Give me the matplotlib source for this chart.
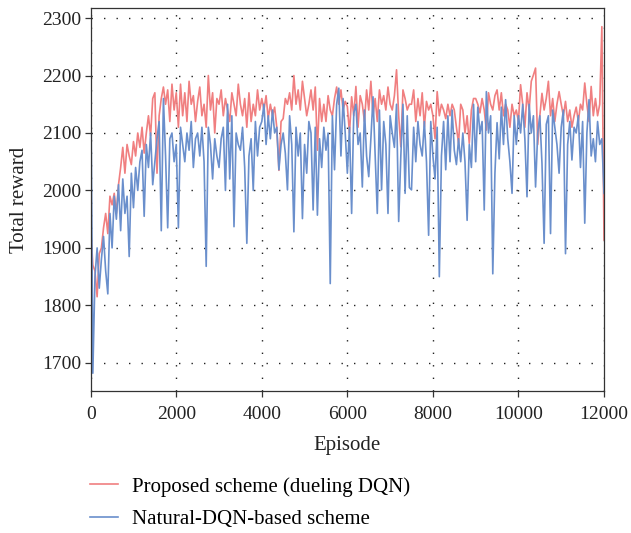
import numpy as np
import matplotlib
matplotlib.use("Agg")
import matplotlib.pyplot as plt

episodes = np.arange(0, 12001, 50)

proposed_dueling = [
    1935, 1870, 1860, 1815, 1890, 1900, 1935, 1960, 1925, 1990,
    1975, 1995, 1960, 2010, 2040, 2075, 2030, 2080, 2060, 2045,
    2085, 2060, 2100, 2075, 2110, 2065, 2100, 2130, 2095, 2160,
    2170, 2030, 2130, 2160, 2180, 2150, 2175, 2120, 2185, 2140,
    2170, 2110, 2185, 2130, 2170, 2120, 2190, 2150, 2165, 2120,
    2155, 2180, 2130, 2150, 2110, 2200, 2140, 2170, 2100, 2160,
    2150, 2175, 2130, 2160, 2140, 2120, 2170, 2150, 2130, 2185,
    2150, 2130, 2160, 2110, 2170, 2120, 2150, 2130, 2175, 2140,
    2160, 2140, 2165, 2125, 2150, 2130, 2145, 2110, 2035, 2120,
    2125, 2160, 2150, 2170, 2140, 2200, 2150, 2175, 2140, 2190,
    2160, 2130, 2150, 2175, 2140, 2180, 2070, 2160, 2120, 2150,
    2120, 2165, 2140, 2130, 2160, 2180, 2150, 2175, 2140, 2155,
    2146, 2100, 2163, 2130, 2181, 2110, 2165, 2150, 2120, 2175,
    2140, 2190, 2130, 2160, 2120, 2175, 2150, 2165, 2140, 2180,
    2150, 2140, 2165, 2210, 2130, 2076, 2175, 2160, 2140, 2150,
    2150, 2175, 2120, 2160, 2130, 2170, 2110, 2155, 2140, 2150,
    2130, 2090, 2172, 2130, 2150, 2140, 2125, 2150, 2130, 2150,
    2140, 2110, 2082, 2150, 2140, 2100, 2130, 2082, 2140, 2160,
    2160, 2150, 2135, 2160, 2140, 2105, 2170, 2150, 2140, 2165,
    2175, 2140, 2170, 2130, 2150, 2140, 2110, 2150, 2130, 2140,
    2120, 2184, 2150, 2110, 2170, 2140, 2190, 2201, 2213, 2080,
    2130, 2169, 2140, 2160, 2190, 2130, 2160, 2120, 2150, 2172,
    2150, 2130, 2155, 2120, 2140, 2110, 2130, 2145, 2120, 2150,
    2140, 2187, 2150, 2120, 2181, 2130, 2160, 2130, 2150, 2285, 1914,
]

natural_dqn = [
    2227, 1682, 1850, 1900, 1830, 1880, 1920, 1860, 1820, 1960,
    1900, 1990, 1950, 2010, 1930, 2020, 1960, 1990, 1885, 2030,
    1970, 2040, 2000, 2050, 2070, 1955, 2080, 2040, 2100, 2010,
    2050, 2090, 2120, 1930, 2160, 2060, 1935, 2090, 2100, 2050,
    2080, 1935, 2110, 2080, 2050, 2100, 2070, 2120, 2040, 2090,
    2100, 2060, 2110, 2050, 1868, 2110, 2080, 2020, 2090, 2060,
    2040, 2090, 2110, 2000, 2150, 2020, 2130, 1937, 2100, 2080,
    2070, 2110, 2040, 1908, 2060, 2090, 2000, 2120, 2060, 2110,
    2120, 2150, 2080, 2130, 2090, 2140, 2100, 2110, 2036, 2080,
    2100, 2065, 2001, 2130, 2080, 1928, 2110, 2060, 2100, 1951,
    2080, 2030, 2120, 2100, 1966, 2110, 1957, 2090, 2040, 2110,
    2070, 2100, 1838, 2130, 2036, 2150, 2178, 2060, 2160, 2100,
    2030, 2110, 1960, 2135, 2150, 2080, 2100, 2006, 2140, 2060,
    2024, 2090, 2163, 2060, 1960, 2140, 2001, 2120, 2080, 1960,
    2130, 2100, 2075, 2150, 1946, 2060, 2150, 1995, 2130, 2005,
    2001, 2110, 2050, 2120, 2080, 2060, 2120, 2050, 1922, 2120,
    2060, 2020, 2110, 1850, 2060, 2120, 2036, 2130, 2050, 2140,
    2070, 2045, 2090, 2050, 2100, 2050, 1948, 2080, 2040, 2150,
    2050, 2145, 2100, 2120, 1966, 2172, 2100, 2130, 1855, 2030,
    2118, 2055, 2145, 2080, 2158, 2090, 2050, 1995, 2130, 2080,
    2130, 2100, 2150, 2090, 1989, 2150, 2100, 2130, 2006, 2100,
    2130, 2047, 1908, 2115, 2130, 1925, 2140, 2110, 2080, 2030,
    2110, 2140, 1890, 2080, 2120, 2053, 2110, 2100, 2130, 2040,
    2120, 1943, 2100, 2158, 2060, 2090, 2050, 2120, 2080, 2090, 1995,
]

labels = ["Proposed scheme (dueling DQN)", "Natural-DQN-based scheme"]
x_ticks = [0, 2000, 4000, 6000, 8000, 10000, 12000]
y_ticks = [1700, 1800, 1900, 2000, 2100, 2200, 2300]

plt.rcParams['font.family'] = ['Liberation Serif', 'DejaVu Serif']

fig = plt.figure(figsize=(6.31, 5.33), dpi=100)
ax = fig.add_axes([90.7/631, 1-391/533, (604-90.7)/631, (391-8.3)/533])

red = '#F07F80'
blue = '#6A8FCC'
l1, = ax.plot(episodes, proposed_dueling, color=red, lw=1.2, label=labels[0])
l2, = ax.plot(episodes, natural_dqn, color=blue, lw=1.2, label=labels[1])

ax.set_xlim(0, 12000)
ax.set_ylim(1651, 2317)
ax.set_xticks(x_ticks)
ax.set_yticks(y_ticks)
ax.tick_params(direction='out', length=4, width=0.9, color='#333333',
               labelsize=14, labelcolor='#222222', pad=3)
ax.tick_params(axis='x', pad=7)
for s in ax.spines.values():
    s.set_color('#333333')
    s.set_linewidth(0.9)

ax.grid(True, color='#222222', linestyle=(0, (1, 8)), linewidth=1.0)
ax.set_axisbelow(True)

ax.set_xlabel('Episode', fontsize=15, color='#222222', labelpad=9)
ax.set_ylabel('Total reward', fontsize=15, color='#222222', labelpad=9)

fig.legend(handles=[l1, l2], labels=labels, loc='upper left',
           bbox_to_anchor=(90/631, 1-477/533), frameon=False, fontsize=15,
           handlelength=1.35, handletextpad=0.67, labelspacing=0.62,
           borderpad=0, borderaxespad=0)

fig.savefig('out.png', dpi=100)
